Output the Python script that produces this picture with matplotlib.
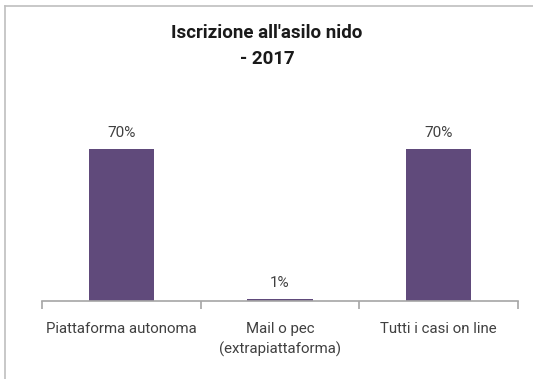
import matplotlib.pyplot as plt
from matplotlib.lines import Line2D

plt.rcParams['font.family'] = ['Roboto', 'DejaVu Sans']

# Data
categories = ['Piattaforma autonoma', 'Mail o pec\n(extrapiattaforma)', 'Tutti i casi on line']
values = [70, 1, 70]
title = "Iscrizione all'asilo nido\n- 2017"

W, H = 533, 379
fig = plt.figure(figsize=(W / 100, H / 100), dpi=100)

# Plot area in pixel terms
left, right, base, top = 42, 518, 301, 84
ax = fig.add_axes([left / W, 1 - base / H, (right - left) / W, (base - top) / H])

x = range(len(categories))
bars = ax.bar(x, values, width=0.41, color='#604a7b')
ax.set_xlim(-0.5, len(categories) - 0.5)
ax.set_ylim(0, 100)

for b, v in zip(bars, values):
    ax.text(b.get_x() + b.get_width() / 2, v + 4, f'{v}%', ha='center', va='bottom',
            fontsize=11, color='#404040')

for s in ['top', 'right', 'left']:
    ax.spines[s].set_visible(False)
ax.spines['bottom'].set_color('#a6a6a6')
ax.spines['bottom'].set_linewidth(1.2)
ax.set_yticks([])

# Ticks between categories
ax.set_xticks([-0.5, 0.5, 1.5, 2.5])
ax.set_xticklabels([])
ax.tick_params(axis='x', length=6, width=1.2, color='#a6a6a6')
for i, c in enumerate(categories):
    ax.text(i, -0.095, c, transform=ax.get_xaxis_transform(), ha='center', va='top',
            fontsize=10.8, color='#404040', linespacing=1.5)

fig.text(267 / W, 1 - 24 / H, title, ha='center', va='top', fontsize=13.5,
         fontweight='bold', color='#1a1a1a', linespacing=1.6)

# Chart border
bx, by = 4.5 / W, 1 - 6 / H
fig.add_artist(Line2D([bx, 1], [by, by], transform=fig.transFigure, color='#bfbfbf', lw=1.2))
fig.add_artist(Line2D([bx, bx], [0, by], transform=fig.transFigure, color='#bfbfbf', lw=1.2))

fig.savefig('out.png', dpi=100, facecolor='white')
